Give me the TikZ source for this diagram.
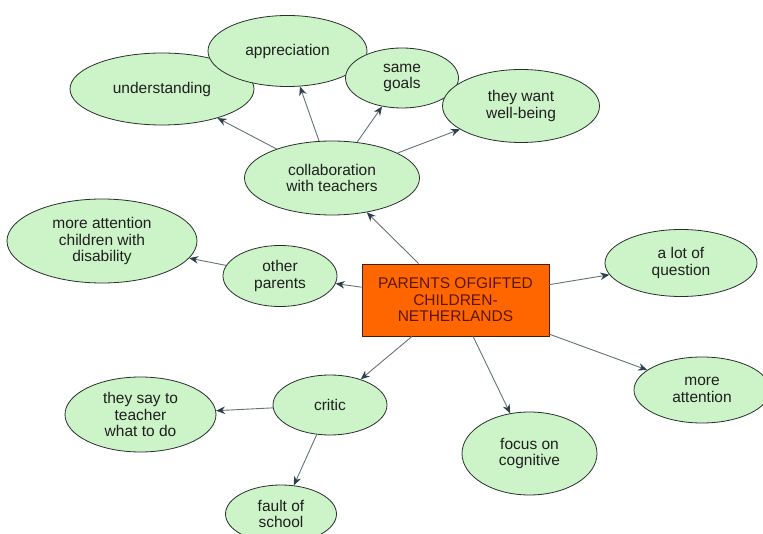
\documentclass[tikz,border=0pt]{standalone}
\usepackage{fontspec}
\setmainfont{Liberation Sans}
\usetikzlibrary{shapes.geometric,arrows.meta}

\definecolor{bubble}{RGB}{205,244,200}
\definecolor{rim}{RGB}{40,48,44}
\definecolor{hubfill}{RGB}{255,102,0}
\definecolor{hubtext}{RGB}{90,22,0}
\definecolor{hubrim}{RGB}{70,30,10}
\definecolor{linkgray}{RGB}{100,114,120}
\definecolor{tipgray}{RGB}{45,65,75}

\begin{document}
\begin{tikzpicture}[x=1pt,y=-1pt,
  idea/.style={ellipse, draw=rim, fill=bubble, line width=0.8pt,
    inner sep=0pt, align=center, text=black!88,
    font=\fontsize{15.5}{16.5}\selectfont},
  hubbox/.style={rectangle, draw=hubrim, fill=hubfill, line width=0.9pt,
    minimum width=187pt, minimum height=72pt, inner sep=0pt,
    align=center, text=hubtext, font=\fontsize{15.5}{16.5}\selectfont},
  link/.style={draw=linkgray, line width=0.9pt,
    -{Stealth[length=9pt,width=7.5pt,color=tipgray]}}
]
\useasboundingbox[fill=white] (0,0) rectangle (763,534);

% central concept
\node[hubbox] (hub) at (455.5,300) {PARENTS OFGIFTED\\CHILDREN-\\NETHERLANDS};

% collaboration branch
\node[idea, minimum width=175pt, minimum height=74pt] (collab) at (332,178) {collaboration\\with teachers};
\node[idea, minimum width=184pt, minimum height=72pt] (underst) at (162,89) {understanding};
\node[idea, minimum width=159pt, minimum height=71pt] (apprec) at (287.5,51) {appreciation};
\node[idea, minimum width=113pt, minimum height=60pt] (goals) at (402,78) {same\\goals};
\node[idea, minimum width=157pt, minimum height=73pt] (wellb) at (521,106) {they want\\well-being};

% other parents branch
\node[idea, minimum width=114pt, minimum height=61pt] (others) at (280,276) {other\\parents};
\node[idea, minimum width=190pt, minimum height=84pt] (disab) at (102,241) {more attention\\children with\\disability};

% right side
\node[idea, minimum width=152pt, minimum height=67pt] (quest) at (681,263) {a lot of\\question};
\node[idea, minimum width=136pt, minimum height=66pt] (moreatt) at (702,390) {more\\attention};
\node[idea, minimum width=135pt, minimum height=83pt] (focus) at (529.5,453.5) {focus on\\cognitive};

% critic branch
\node[idea, minimum width=114pt, minimum height=60pt] (critic) at (330,405) {critic};
\node[idea, minimum width=151pt, minimum height=75pt] (teachdo) at (140.5,414.5) {they say to\\teacher\\what to do};
\node[idea, minimum width=111pt, minimum height=58pt] (fault) at (281,514) {fault of\\school};

% connectors
\draw[link] (hub) -- (collab);
\draw[link] (collab) -- (underst);
\draw[link] (collab) -- (apprec);
\draw[link] (collab) -- (goals);
\draw[link] (collab) -- (wellb);
\draw[link] (hub) -- (others);
\draw[link] (others) -- (disab);
\draw[link] (hub) -- (quest);
\draw[link] (hub) -- (moreatt);
\draw[link] (hub) -- (focus);
\draw[link] (hub) -- (critic);
\draw[link] (critic) -- (teachdo);
\draw[link] (critic) -- (fault);
\end{tikzpicture}
\end{document}
